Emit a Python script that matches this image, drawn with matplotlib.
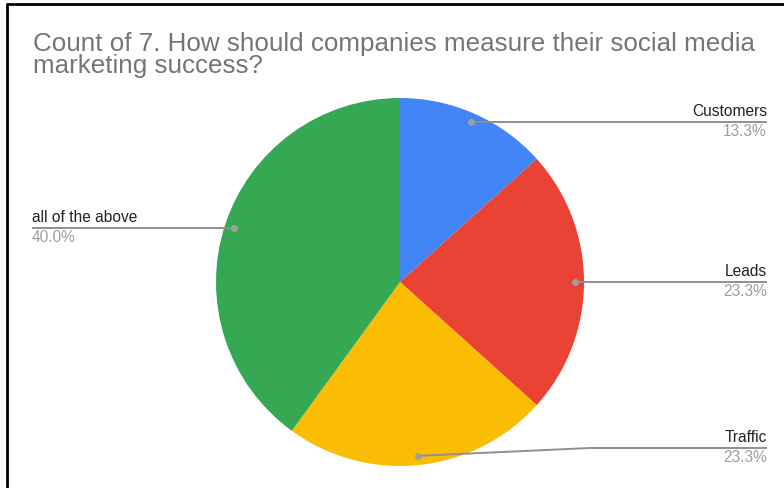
import numpy as np
import matplotlib
matplotlib.use("Agg")
import matplotlib.pyplot as plt

# Survey answers (counts) and slice colours
categories = ["Customers", "Leads", "Traffic", "all of the above"]
counts = [4, 7, 7, 12]
colors = ["#4285F4", "#EA4335", "#FBBC04", "#34A853"]
title = "Count of 7. How should companies measure their social media\nmarketing success?"

W, H = 784, 488
fig = plt.figure(figsize=(W / 100, H / 100), dpi=100)
ax = fig.add_axes([0, 0, 1, 1])

font = "Liberation Sans"

# pixel-space helper (y measured from the top)
def py(y):
    return H - y

cx, cy, R = 400, py(282), 184
wedges, _ = ax.pie(counts, colors=colors, startangle=90, counterclock=False,
                   center=(cx, cy), radius=R, frame=True,
                   wedgeprops=dict(linewidth=0))
ax.set_xlim(0, W)
ax.set_ylim(0, H)
ax.set_aspect("equal")
ax.axis("off")

total = sum(counts)
pcts = [100 * c / total for c in counts]

# label layout: (side, text x, elbow x or None, line y)
layout = {
    "Customers": ("right", 767, None, None),
    "Leads": ("right", 767, None, None),
    "Traffic": ("right", 767, 590, py(448)),
    "all of the above": ("left", 32, None, None),
}

line_col = "#8f8f8f"
for w, name, p in zip(wedges, categories, pcts):
    mid = np.deg2rad((w.theta1 + w.theta2) / 2)
    dx = cx + 0.95 * R * np.cos(mid)
    dy = cy + 0.95 * R * np.sin(mid)
    side, tx, elbow, ly = layout[name]
    if ly is None:
        ly = dy
    if elbow is not None:
        xs, ys = [dx, elbow, tx], [dy, ly, ly]
    else:
        xs, ys = [dx, tx], [dy, ly]
    ax.plot(xs, ys, color=line_col, lw=1.4, solid_capstyle="butt", zorder=3)
    ax.plot([dx], [dy], "o", color="#9e9e9e", ms=4, zorder=4)
    ha = "right" if side == "right" else "left"
    ax.text(tx, ly + 3, name, ha=ha, va="bottom", fontsize=11.2,
            color="#222222", family=font)
    ax.text(tx, ly - 2, f"{p:.1f}%", ha=ha, va="top", fontsize=11.2,
            color="#9e9e9e", family=font)

# title, drawn line by line with tight spacing
for i, line in enumerate(title.split("\n")):
    ax.text(33, py(50.7 + 22.6 * i), line, ha="left", va="baseline",
            fontsize=18.7, color="#757575", family=font)

# frame edges on the top and left
ax.plot([7, 7], [0, py(4)], color="black", lw=2, zorder=5, solid_capstyle="butt")
ax.plot([6, W], [py(4), py(4)], color="black", lw=2, zorder=5, solid_capstyle="butt")

fig.savefig("out.png", dpi=100, facecolor="white")
